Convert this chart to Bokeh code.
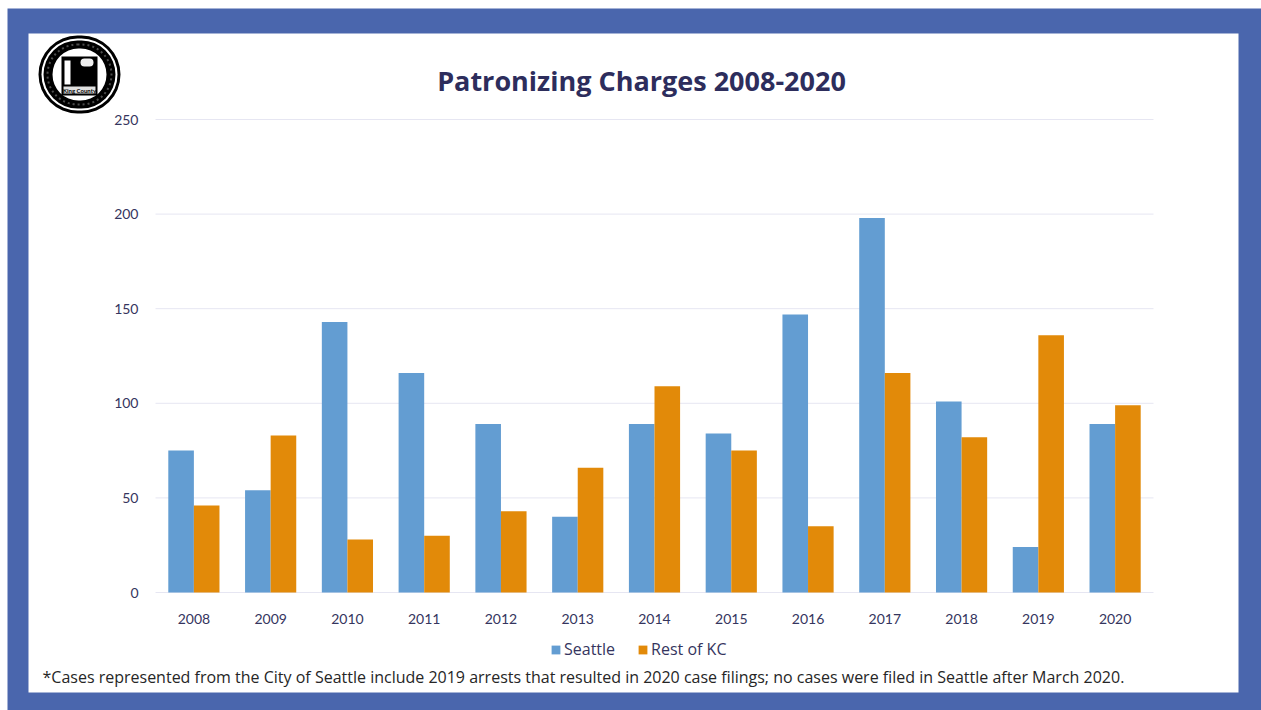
from bokeh.plotting import figure
from bokeh.models import (Range1d, ColumnDataSource, BoxAnnotation,
                          Label, Legend, LegendItem, FixedTicker)
from bokeh.transform import dodge
from bokeh.embed import file_html
from bokeh.resources import INLINE

# ---- data ----
years = ["2008", "2009", "2010", "2011", "2012", "2013", "2014",
         "2015", "2016", "2017", "2018", "2019", "2020"]
seattle = [75, 54, 143, 116, 89, 40, 89, 84, 147, 198, 101, 24, 89]
rest_kc = [46, 83, 28, 30, 43, 66, 109, 75, 35, 116, 82, 136, 99]
y_ticks = [0, 50, 100, 150, 200, 250]
title_text = "Patronizing Charges 2008-2020"
series_names = ["Seattle", "Rest of KC"]
footnote = ("*Cases represented from the City of Seattle include 2019 arrests that "
            "resulted in 2020 case filings; no cases were filed in Seattle after March 2020.")

FONT = "Lato"
FONT2 = "Open Sans"
BLUE = "#639dd2"
ORANGE = "#e28a09"
NAVY = "#35355e"
FRAME_BLUE = "#4a66ad"

idx = list(range(len(years)))
source = ColumnDataSource(dict(idx=idx, year=years, seattle=seattle, rest=rest_kc))

# plot area in canvas pixels: x 155..1153, y(0)=592, y(250)=119
W, H = 1261, 710
PX_L, PX_R, PY_0, PY_TOP = 155, 1153, 592, 119
ux = (PX_R - PX_L) / len(years)
uy = (PY_0 - PY_TOP) / y_ticks[-1]
x_start = -0.5 - PX_L / ux
x_end = -0.5 + (W - PX_L) / ux
y_start = -(H - PY_0) / uy
y_end = PY_0 / uy

p = figure(width=W, height=H,
           x_range=Range1d(x_start, x_end), y_range=Range1d(y_start, y_end),
           output_backend="svg", toolbar_location=None,
           min_border=0, min_border_left=0, min_border_right=0,
           min_border_top=0, min_border_bottom=0,
           border_fill_color="white", background_fill_color="white",
           outline_line_color=None)
p.title.text = ""
p.xgrid.visible = False
p.ygrid.visible = False


def cbox(l, r, t, b, color, level="image", radius=0, **kw):
    args = dict(fill_color=color, fill_alpha=1.0, line_color=None)
    args.update(kw)
    return BoxAnnotation(left=l, right=r, top=t, bottom=b,
                         left_units="canvas", right_units="canvas",
                         top_units="canvas", bottom_units="canvas",
                         border_radius=int(radius), level=level, **args)


# blue frame and white inner panel
p.add_layout(cbox(7, 1261, 8, 710, FRAME_BLUE))
p.add_layout(cbox(28, 1238, 33, 692, "white"))

# horizontal gridlines across the plot area only
p.segment(x0=[-0.5] * len(y_ticks), x1=[len(years) - 0.5] * len(y_ticks),
          y0=y_ticks, y1=y_ticks, line_color="#e6e6f2", line_width=1)

# bars
r1 = p.vbar(x=dodge("idx", -1 / 6), top="seattle", width=1 / 3,
            source=source, fill_color=BLUE, line_color=None)
r2 = p.vbar(x=dodge("idx", 1 / 6), top="rest", width=1 / 3,
            source=source, fill_color=ORANGE, line_color=None)

# axes placed inside the canvas-sized frame
for ax in (p.xaxis, p.yaxis):
    ax.axis_line_color = None
    ax.major_tick_line_color = None
    ax.minor_tick_line_color = None
    ax.major_label_text_font = FONT
    ax.major_label_text_font_size = "14px"
    ax.major_label_text_color = NAVY
p.yaxis.ticker = FixedTicker(ticks=y_ticks)
p.yaxis.fixed_location = -0.5
p.yaxis.major_label_standoff = 11
p.xaxis.ticker = FixedTicker(ticks=idx)
p.xaxis.major_label_overrides = {i: y for i, y in zip(idx, years)}
p.xaxis.fixed_location = 0
p.xaxis.major_label_standoff = 15

# legend
legend = Legend(items=[LegendItem(label=series_names[0], renderers=[r1]),
                       LegendItem(label=series_names[1], renderers=[r2])],
                orientation="horizontal", location=(550, 50),
                glyph_width=11, glyph_height=11, label_standoff=3, spacing=22,
                padding=0, margin=0, border_line_color=None,
                background_fill_alpha=0, label_text_font=FONT2,
                label_text_font_size="16px", label_text_color=NAVY)
p.add_layout(legend)

# title and footnote
p.add_layout(Label(x=641, y=80, x_units="canvas", y_units="canvas", text=title_text,
                   text_align="center", text_baseline="middle", text_font=FONT2,
                   text_font_size="27px", text_font_style="bold", text_color="#2d2d5c"))
p.add_layout(Label(x=42, y=676, x_units="canvas", y_units="canvas", text=footnote,
                   text_align="left", text_baseline="middle", text_font=FONT2,
                   text_font_size="16px", text_color="#262626"))

# logo (seal)
cx, cy = 79, 74
for rx, ry, col in [(41, 39, "black"), (38, 36, "white"), (36, 34, "black"), (27, 26, "white")]:
    p.add_layout(cbox(cx - rx, cx + rx, cy - ry, cy + ry, col, "annotation", min(rx, ry)))
p.add_layout(cbox(cx - 32, cx + 32, cy - 30, cy + 30, None, "annotation", 30,
                  fill_alpha=0, line_color="white", line_width=2, line_dash="2 3"))
p.add_layout(cbox(61, 97, 56, 95, "black", "annotation"))
p.add_layout(cbox(64, 70, 60, 84, "white", "annotation"))
p.add_layout(cbox(80, 93, 58, 66, "#f0f0f0", "annotation", 4))
p.add_layout(cbox(63, 95, 86, 93, "#e0e0e0", "annotation"))
p.add_layout(Label(x=79, y=89.5, x_units="canvas", y_units="canvas", text="King County",
                   text_align="center", text_baseline="middle", text_font=FONT,
                   text_font_size="6px", text_font_style="bold", text_color="black"))

open("out.html", "w").write(file_html(p, INLINE))
